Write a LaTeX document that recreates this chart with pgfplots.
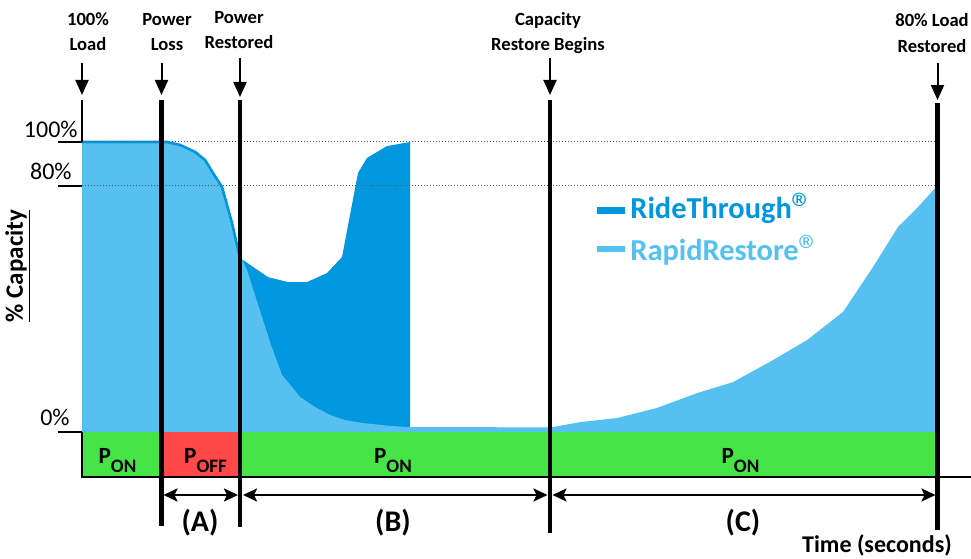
\documentclass[border=0pt]{standalone}
\usepackage{fontspec}
\setmainfont{Carlito}
\usepackage{pgfplots}
\pgfplotsset{compat=1.18}
\usetikzlibrary{arrows.meta}
\definecolor{lb}{HTML}{56C1F0}
\definecolor{db}{HTML}{0097DE}
\definecolor{gr}{HTML}{46E446}
\definecolor{rd}{HTML}{FF4848}
\definecolor{dotc}{HTML}{555555}
\newcommand\toplab{\fontsize{9.3}{11}\selectfont\bfseries}
\newcommand\reg{\raisebox{-2.5pt}{\mdseries\fontsize{22}{22}\selectfont ®}}
\begin{document}
\begin{tikzpicture}
\begin{axis}[scale only axis, width=485.5pt, height=279pt,
  xmin=0, xmax=971, ymin=-43.448, ymax=148.966,
  axis lines=none, ticks=none, clip=false]
% RideThrough fill
\addplot[fill=db, draw=none] coordinates {(240,0) (240,60.0) (243,59.3) (268,53.4) (288,51.7) (307,51.7) (327,54.8) (342,60.3) (358,89.3) (367,94.5) (387,98.6) (410,100) (410,0)};
% RapidRestore fill
\addplot[fill=lb, draw=none] coordinates {(82,0) (82,100) (167,100) (180,99.0) (195,96.6) (205,93.8) (213,89.3) (222,84.5) (232,72.1) (238,62.8) (247,55.9) (255,47.2) (263,38.6) (272,29.0) (282,19.7) (300,12.1) (315,8.6) (330,5.9) (345,4.1) (363,3.1) (390,2.1) (410,1.7) (550,1.6) (553,1.7) (580,3.4) (617,4.8) (657,8.3) (697,13.4) (733,17.2) (773,24.8) (807,31.7) (843,41.4) (873,56.9) (898,70.7) (917,77.2) (937,84.8) (937,0)};
% RideThrough line before restoration
\addplot[db, line width=1.3pt] coordinates {(82,100) (167,100) (180,99.0) (195,96.6) (205,93.8) (213,89.3) (222,84.5) (232,72.1) (240,60.0)};
% dotted reference lines
\draw[dotc, line width=0.5pt, dash pattern=on 0.6pt off 0.9pt] (axis cs:82,100) -- (axis cs:937,100);
\draw[dotc, line width=0.5pt, dash pattern=on 0.6pt off 0.9pt] (axis cs:82,84.83) -- (axis cs:937,84.83);
% power state bar
\addplot[fill=gr, draw=none] coordinates {(82,0) (937,0) (937,-15.52) (82,-15.52)};
\addplot[fill=rd, draw=none] coordinates {(161,0) (240,0) (240,-15.52) (161,-15.52)};
\draw[line width=0.8pt] (axis cs:82,0) -- (axis cs:82,-15.52) -- (axis cs:971,-15.52);
% y tick marks and labels
\draw[line width=1pt] (axis cs:58,100) -- (axis cs:82,100);
\draw[line width=1pt] (axis cs:58,84.83) -- (axis cs:82,84.83);
\draw[line width=1pt] (axis cs:58,0) -- (axis cs:82,0);
\node[anchor=base east, inner sep=0pt, font=\fontsize{12}{12}\selectfont] at (axis cs:78,101.38) {100\%};
\node[anchor=base east, inner sep=0pt, font=\fontsize{12}{12}\selectfont] at (axis cs:72,87.24) {80\%};
\node[anchor=base east, inner sep=0pt, font=\fontsize{12}{12}\selectfont] at (axis cs:70,2.41) {0\%};
\node[anchor=base, rotate=90, inner sep=0pt, font=\fontsize{12.5}{12}\selectfont\bfseries] at (axis cs:23,57.24) {\underline{\% Capacity}};
% vertical event lines
\draw[line width=1pt] (axis cs:82,114.48) -- (axis cs:82,100);
\draw[line width=2.2pt] (axis cs:161.5,114.48) -- (axis cs:161.5,-32.41);
\draw[line width=2.2pt] (axis cs:240,114.48) -- (axis cs:240,-32.76);
\draw[line width=2.2pt] (axis cs:550,114.48) -- (axis cs:550,-34.83);
\draw[line width=2.2pt] (axis cs:937.5,113.45) -- (axis cs:937.5,-33.79);
% down arrows
\tikzset{darr/.style={line width=1pt, -{Triangle[width=6.5pt,length=7.5pt]}}}
\draw[darr] (axis cs:82,127.24) -- (axis cs:82,116.21);
\draw[darr] (axis cs:161.5,127.24) -- (axis cs:161.5,116.21);
\draw[darr] (axis cs:240,128.97) -- (axis cs:240,115.52);
\draw[darr] (axis cs:550,128.97) -- (axis cs:550,116.21);
\draw[darr] (axis cs:937.5,127.24) -- (axis cs:937.5,114.48);
% top labels
\node[anchor=base, inner sep=0pt, font=\toplab] at (axis cs:88,140.34) {100\%};
\node[anchor=base, inner sep=0pt, font=\toplab] at (axis cs:88,131.38) {Load};
\node[anchor=base, inner sep=0pt, font=\toplab] at (axis cs:167,140.34) {Power};
\node[anchor=base, inner sep=0pt, font=\toplab] at (axis cs:167,131.38) {Loss};
\node[anchor=base, inner sep=0pt, font=\toplab] at (axis cs:239,141.03) {Power};
\node[anchor=base, inner sep=0pt, font=\toplab] at (axis cs:239,132.41) {Restored};
\node[anchor=base, inner sep=0pt, font=\toplab] at (axis cs:548,140.34) {Capacity};
\node[anchor=base, inner sep=0pt, font=\toplab] at (axis cs:548,131.72) {Restore Begins};
\node[anchor=base, inner sep=0pt, font=\toplab] at (axis cs:932,139.66) {80\% Load};
\node[anchor=base, inner sep=0pt, font=\toplab] at (axis cs:932,131.03) {Restored};
% power state labels
\tikzset{plab/.style={anchor=base, inner sep=0pt, font=\fontsize{11.6}{12}\selectfont\bfseries}}
\node[plab] at (axis cs:117.5,-10.69) {P\raisebox{-4.5pt}{\fontsize{9.5}{10}\selectfont ON}};
\node[plab] at (axis cs:205.5,-10.69) {P\raisebox{-4.5pt}{\fontsize{9.5}{10}\selectfont OFF}};
\node[plab] at (axis cs:393,-10.69) {P\raisebox{-4.5pt}{\fontsize{9.5}{10}\selectfont ON}};
\node[plab] at (axis cs:740.5,-10.69) {P\raisebox{-4.5pt}{\fontsize{9.5}{10}\selectfont ON}};
% interval arrows
\tikzset{iarr/.style={line width=1.2pt, {Stealth[width=6.5pt,length=7pt,inset=1.5pt]}-{Stealth[width=6.5pt,length=7pt,inset=1.5pt]}}}
\draw[iarr] (axis cs:163.5,-21.72) -- (axis cs:238,-21.72);
\draw[iarr] (axis cs:243,-21.72) -- (axis cs:547.5,-21.72);
\draw[iarr] (axis cs:552.5,-21.72) -- (axis cs:935.5,-21.72);
\tikzset{ilab/.style={anchor=base, inner sep=0pt, font=\fontsize{15}{15}\selectfont\bfseries}}
\node[ilab] at (axis cs:200,-34.48) {(A)};
\node[ilab] at (axis cs:393,-34.48) {(B)};
\node[ilab] at (axis cs:743,-34.48) {(C)};
\node[anchor=base, inner sep=0pt, font=\fontsize{12}{12}\selectfont\bfseries] at (axis cs:877,-41.38) {Time (seconds)};
% legend
\draw[db, line width=3.3pt] (axis cs:597,76.31) -- (axis cs:625,76.31);
\draw[lb, line width=3.3pt] (axis cs:597,63.1) -- (axis cs:625,63.1);
\node[anchor=base west, inner sep=0pt, text=db, font=\fontsize{15.2}{15}\selectfont\bfseries] at (axis cs:630,73.79) {RideThrough\reg};
\node[anchor=base west, inner sep=0pt, text=lb, font=\fontsize{15.2}{15}\selectfont\bfseries] at (axis cs:630,59.31) {RapidRestore\reg};
\end{axis}
\pgfresetboundingbox
\path[use as bounding box] (current axis.south west) rectangle (current axis.north east);
\end{tikzpicture}
\end{document}
